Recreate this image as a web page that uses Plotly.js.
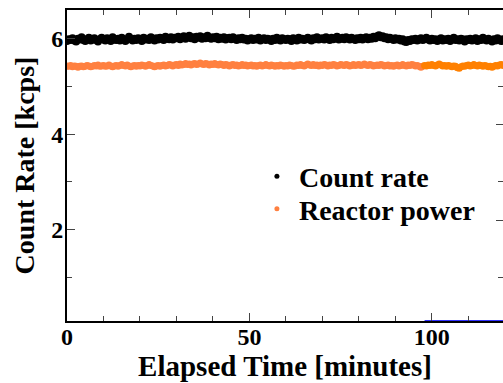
<!DOCTYPE html>
<html>
<head>
<meta charset="utf-8">
<script src="https://cdn.plot.ly/plotly-3.0.1.min.js"></script>
<style>html,body{margin:0;padding:0;background:#fff;}#chart{width:503px;height:383px;}</style>
</head>
<body>
<div id="chart"></div>
<script>
// time step of the samples [minutes]
const timeStep = 0.5;

// Count rate [kcps], one sample every 0.5 min from 0 to 119.5
const countRate = [
5.95,5.99,5.97,6.01,5.96,5.94,6.00,5.98,6.03,5.97,5.95,5.99,6.02,5.96,5.98,6.01,5.97,5.94,5.99,6.02,
5.98,5.96,6.01,5.99,5.95,6.03,5.98,5.97,6.00,5.96,6.02,5.99,5.95,5.98,6.04,5.99,5.96,6.00,5.97,6.01,
5.99,5.95,6.02,5.98,6.00,5.97,6.03,5.99,5.96,6.01,5.98,6.02,6.00,5.97,6.04,6.01,5.99,6.03,5.98,6.02,
6.01,6.04,5.99,6.02,6.05,6.00,6.03,6.06,6.01,6.03,5.99,6.04,6.02,6.05,6.00,6.03,6.01,6.06,6.02,6.00,
6.03,6.01,6.04,5.99,6.02,6.00,6.03,5.98,6.01,6.02,5.99,6.03,6.00,5.97,6.01,5.99,6.02,5.98,6.00,5.96,
5.99,6.01,5.97,6.00,5.98,6.02,5.96,5.99,6.01,5.97,6.00,5.98,5.95,6.00,5.97,6.02,5.98,5.96,6.01,5.99,
5.97,6.00,5.98,5.95,6.01,5.99,5.96,6.02,5.98,6.00,5.97,5.99,6.02,5.98,5.96,6.01,5.99,6.03,5.98,6.00,
6.01,5.98,6.03,6.00,5.97,6.02,5.99,6.01,6.04,5.98,6.00,6.02,5.99,6.03,6.01,5.98,6.02,6.00,5.97,6.01,
5.99,6.02,5.98,6.01,6.03,5.99,6.02,6.00,6.04,6.01,6.05,6.07,6.03,6.05,6.01,6.03,5.99,6.02,6.00,5.97,
6.01,5.98,6.00,5.96,5.99,5.94,5.93,5.97,5.95,5.99,5.97,6.00,5.96,5.98,6.01,5.97,5.99,6.02,5.98,5.96,
6.00,5.97,5.99,5.95,5.98,6.01,5.96,5.99,5.97,6.00,5.95,5.98,6.02,5.97,5.99,5.96,6.00,5.98,5.94,5.99,
5.97,6.00,5.96,5.98,6.01,5.95,5.99,5.97,6.02,5.98,5.96,6.00,5.97,5.94,5.99,5.96,6.01,5.98,5.95,5.99
];

// Reactor power (scaled), same sampling
const reactorPower = [
5.43,5.42,5.44,5.41,5.43,5.42,5.40,5.42,5.43,5.41,5.42,5.44,5.43,5.41,5.42,5.44,5.43,5.45,5.42,5.43,
5.44,5.42,5.43,5.45,5.43,5.41,5.43,5.44,5.42,5.44,5.46,5.44,5.43,5.45,5.43,5.41,5.43,5.44,5.42,5.44,
5.43,5.45,5.44,5.42,5.44,5.46,5.44,5.43,5.41,5.43,5.44,5.42,5.44,5.45,5.43,5.44,5.46,5.45,5.43,5.45,
5.46,5.44,5.47,5.45,5.46,5.48,5.46,5.47,5.45,5.47,5.48,5.46,5.47,5.49,5.47,5.46,5.48,5.47,5.45,5.47,
5.46,5.48,5.46,5.45,5.47,5.46,5.44,5.46,5.45,5.43,5.45,5.46,5.44,5.45,5.43,5.44,5.46,5.44,5.45,5.43,
5.44,5.45,5.43,5.44,5.42,5.44,5.45,5.43,5.44,5.46,5.44,5.43,5.45,5.44,5.42,5.44,5.43,5.45,5.44,5.42,
5.44,5.43,5.45,5.44,5.42,5.43,5.45,5.44,5.46,5.44,5.43,5.45,5.47,5.45,5.44,5.46,5.44,5.45,5.43,5.45,
5.44,5.46,5.45,5.43,5.45,5.44,5.46,5.45,5.43,5.44,5.46,5.45,5.44,5.46,5.45,5.43,5.44,5.46,5.44,5.45,
5.46,5.44,5.45,5.47,5.45,5.44,5.46,5.45,5.43,5.44,5.45,5.44,5.46,5.45,5.43,5.44,5.45,5.43,5.44,5.42,
5.44,5.45,5.43,5.44,5.46,5.44,5.43,5.45,5.44,5.46,5.45,5.43,5.44,5.42,5.40,5.42,5.44,5.43,5.45,5.44,
5.46,5.44,5.43,5.45,5.47,5.45,5.43,5.44,5.42,5.44,5.43,5.41,5.43,5.42,5.39,5.38,5.41,5.43,5.42,5.44,
5.45,5.43,5.44,5.46,5.44,5.43,5.45,5.44,5.42,5.44,5.43,5.41,5.42,5.40,5.42,5.44,5.43,5.45,5.46,5.44
];

// time [min] at which the second (darker) power record begins
const powerSplitTime = 98;

// baseline trace (blue) along the bottom
const baselineTime = [98, 119.5];
const baselineValue = [0.1, 0.1];

// series names
const seriesNames = ['Count rate', 'Reactor power'];

// tick labels / tick positions
const xTickVals = [0, 50, 100];
const yTickVals = [2, 4, 6];
const rightMajorTicks = [2.2, 4.2];
const rightMinorTicks = [1, 3, 5];

const time = countRate.map((_, i) => i * timeStep);
const splitIdx = time.findIndex(t => t >= powerSplitTime);

const FONT = 'Liberation Serif, Times New Roman, serif';

const traces = [
  {x: time, y: countRate, type: 'scatter', mode: 'markers', name: seriesNames[0], showlegend: false,
   marker: {color: '#000000', size: 8}},
  {x: time.slice(0, splitIdx), y: reactorPower.slice(0, splitIdx), type: 'scatter', mode: 'markers',
   name: seriesNames[1], showlegend: false, marker: {color: '#ff8040', size: 7}},
  {x: time.slice(splitIdx), y: reactorPower.slice(splitIdx), type: 'scatter', mode: 'markers',
   name: seriesNames[1] + ' (2)', showlegend: false, marker: {color: '#ff8000', size: 7}},
  {x: baselineTime, y: baselineValue, type: 'scatter', mode: 'lines', showlegend: false,
   line: {color: '#3030ff', width: 1.2}},
  // legend entries (small symbols as in the original legend)
  {x: [null], y: [null], type: 'scatter', mode: 'markers', name: seriesNames[0], legend: 'legend',
   marker: {color: '#000000', size: 5}},
  {x: [null], y: [null], type: 'scatter', mode: 'markers', name: seriesNames[1], legend: 'legend2',
   marker: {color: '#ff8040', size: 5}},
  {x: [null], y: [null], yaxis: 'y2', showlegend: false, hoverinfo: 'skip'}
];

const legendFont = {family: FONT, size: 28, weight: 'bold', color: '#000'};

const layout = {
  width: 503, height: 383,
  margin: {l: 67, r: 0, t: 10, b: 62, pad: 0},
  paper_bgcolor: '#ffffff', plot_bgcolor: '#ffffff',
  font: {family: FONT, color: '#000', size: 24, weight: 'bold'},
  showlegend: true,
  legend: {x: 0.431, y: 0.545, xanchor: 'left', yanchor: 'top', bgcolor: 'rgba(0,0,0,0)',
           font: legendFont, itemwidth: 34},
  legend2: {x: 0.431, y: 0.44, xanchor: 'left', yanchor: 'top', bgcolor: 'rgba(0,0,0,0)',
           font: legendFont, itemwidth: 34},
  xaxis: {
    range: [0, 119.5], tickvals: xTickVals, ticks: 'inside', ticklen: 8, tickwidth: 1.2,
    minor: {dtick: 10, tick0: 0, ticks: 'inside', ticklen: 5, tickwidth: 1, showgrid: false},
    showline: true, linewidth: 2, linecolor: '#000', mirror: 'ticks',
    showgrid: false, zeroline: false, ticklabelstandoff: -7,
    tickfont: {family: FONT, size: 24, weight: 'bold'},
    title: {text: 'Elapsed Time [minutes]', font: {family: FONT, size: 29, weight: 'bold'}, standoff: 4},
    automargin: false
  },
  yaxis: {
    range: [0.09, 6.6], tickvals: yTickVals, ticks: 'inside', ticklen: 8, tickwidth: 1.2,
    minor: {dtick: 1, tick0: 0, ticks: 'inside', ticklen: 5, tickwidth: 1, showgrid: false},
    showline: true, linewidth: 2, linecolor: '#000', mirror: false,
    showgrid: false, zeroline: false, ticklabelstandoff: -3,
    tickfont: {family: FONT, size: 24, weight: 'bold'},
    title: {text: 'Count Rate [kcps]', font: {family: FONT, size: 28, weight: 'bold'}, standoff: 8},
    automargin: false
  },
  yaxis2: {
    overlaying: 'y', side: 'right', range: [0.09, 6.6],
    tickvals: rightMajorTicks, ticks: 'inside', ticklen: 7, tickwidth: 1,
    minor: {tickvals: rightMinorTicks, ticks: 'inside', ticklen: 5, tickwidth: 1, showgrid: false},
    showticklabels: false, showline: false, showgrid: false, zeroline: false
  }
};

Plotly.newPlot('chart', traces, layout, {staticPlot: true, displayModeBar: false});
</script>
</body>
</html>
